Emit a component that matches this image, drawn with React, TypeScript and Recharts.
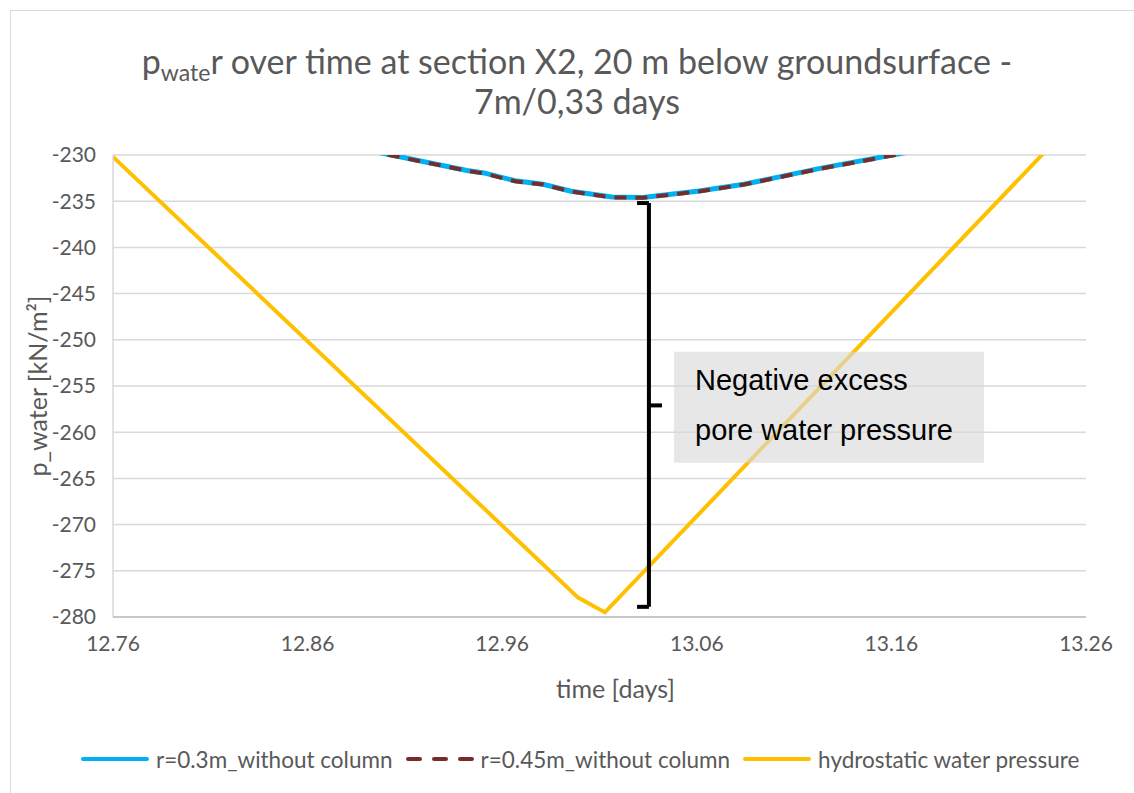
import React from 'react';
import {
  LineChart,
  Line,
  XAxis,
  YAxis,
  CartesianGrid,
  ReferenceArea,
  ReferenceLine,
} from 'recharts';

// time [days] / p_water [kN/m²]
const timeR030 = [12.88, 12.9018, 12.9419, 12.9506, 12.9666, 12.981, 12.9954, 13.0164, 13.0324, 13.0611, 13.0843, 13.1233, 13.162, 13.18];
const pR030 = [-229.0, -229.95, -231.67, -231.94, -232.79, -233.17, -233.92, -234.55, -234.6, -233.9, -233.17, -231.45, -229.95, -229.2];

const timeR045 = [12.88, 12.9018, 12.9419, 12.9506, 12.9666, 12.981, 12.9954, 13.0164, 13.0324, 13.0611, 13.0843, 13.1233, 13.162, 13.18];
const pR045 = [-229.05, -230.0, -231.7, -232.0, -232.85, -233.2, -233.95, -234.6, -234.62, -233.95, -233.2, -231.5, -230.0, -229.25];

const timeHydro = [12.76, 12.999, 13.0128, 13.26];
const pHydro = [-230.2, -277.9, -279.5, -225.0];

const xTicks = [12.76, 12.86, 12.96, 13.06, 13.16, 13.26];
const yTicks = [-280, -275, -270, -265, -260, -255, -250, -245, -240, -235, -230];

// bracket marking the excess pressure (data coordinates)
const bracketLeft = 13.0293;
const bracketRight = 13.0354;
const bracketTip = 13.0421;
const bracketTop = -235.2;
const bracketBottom = -278.9;
const bracketMid = -257.1;

const toRows = (t: number[], v: number[]) => t.map((time, i) => ({ time, p: v[i] }));

const series = [
  { name: 'r=0.3m_without column', data: toRows(timeR030, pR030), color: '#00b0f0', width: 5, dash: undefined as string | undefined, legendDash: undefined as string | undefined },
  { name: 'r=0.45m_without column', data: toRows(timeR045, pR045), color: '#772c2a', width: 4, dash: '12 9', legendDash: '12 14' },
  { name: 'hydrostatic water pressure', data: toRows(timeHydro, pHydro), color: '#ffc000', width: 4, dash: undefined, legendDash: undefined },
];

const FONT = 'Lato, "Open Sans", sans-serif';
const GREY = '#595959';

const BoxLabel = (props: any) => {
  const { x, y } = props.viewBox;
  return (
    <text x={x + 21} y={y + 38} fontFamily='"Liberation Sans", Arial, sans-serif' fontSize={29} fill="#000">
      <tspan x={x + 21}>Negative excess</tspan>
      <tspan x={x + 21} dy={50}>pore water pressure</tspan>
    </text>
  );
};

const YLabel = (props: any) => {
  const { x, y, height } = props.viewBox;
  const cx = x + 37;
  const cy = y + height / 2;
  return (
    <text x={cx} y={cy} transform={`rotate(-90 ${cx} ${cy})`} textAnchor="middle" dominantBaseline="central" fontFamily={FONT} fontSize={25} fill={GREY}>
      p_water [kN/m²]
    </text>
  );
};

const XLabel = (props: any) => {
  const { x, y, width } = props.viewBox;
  return (
    <text x={x + width / 2 + 16} y={y + 81} textAnchor="middle" fontFamily={FONT} fontSize={25} fill={GREY}>
      time [days]
    </text>
  );
};

const ChartLegend = () => (
  <div style={{ position: 'absolute', top: 745, left: 80, display: 'flex', alignItems: 'center', fontFamily: FONT, fontSize: 22.5, color: GREY, whiteSpace: 'nowrap' }}>
    {series.map((s) => (
      <div key={s.name} style={{ display: 'flex', alignItems: 'center', marginRight: 12 }}>
        <svg width={70} height={28}>
          <line x1={3} y1={14} x2={67} y2={14} stroke={s.color} strokeWidth={4} strokeDasharray={s.legendDash} strokeLinecap="round" />
        </svg>
        <span style={{ marginLeft: 6 }}>{s.name}</span>
      </div>
    ))}
  </div>
);

const titleLine: React.CSSProperties = {
  position: 'absolute',
  left: 10,
  width: 1134,
  textAlign: 'center',
  fontFamily: FONT,
  fontSize: 34,
  lineHeight: '34px',
  color: GREY,
  whiteSpace: 'nowrap',
};

export default function App() {
  return (
    <div style={{ position: 'absolute', left: 0, top: 0, width: 1134, height: 793, background: '#fff', overflow: 'hidden' }}>
      <div style={{ position: 'absolute', left: 10, top: 10, width: 1140, height: 800, border: '1px solid #d9d9d9' }} />
      <div style={{ ...titleLine, top: 44 }}>
        p<span style={{ fontSize: 23, position: 'relative', top: 7 }}>wate</span>r over time at section X2, 20 m below groundsurface -
      </div>
      <div style={{ ...titleLine, top: 84 }}>7m/0,33 days</div>
      <LineChart width={1134} height={793} margin={{ top: 155, right: 48, bottom: 136, left: 0 }} style={{ position: 'absolute', left: 0, top: 0 }}>
        <CartesianGrid horizontal vertical={false} stroke="#d9d9d9" strokeWidth={1.5} />
        <XAxis
          dataKey="time"
          type="number"
          domain={[12.76, 13.26]}
          ticks={xTicks}
          allowDataOverflow
          height={40}
          axisLine={{ stroke: '#bfbfbf', strokeWidth: 1.5 }}
          tickLine={false}
          tick={{ fill: GREY, fontSize: 21, fontFamily: FONT }}
          tickMargin={13}
          tickFormatter={(v: number) => v.toFixed(2)}
          label={<XLabel />}
        />
        <YAxis
          type="number"
          domain={[-280, -230]}
          ticks={yTicks}
          allowDataOverflow
          width={113}
          axisLine={{ stroke: '#d9d9d9', strokeWidth: 1.5 }}
          tickLine={false}
          tick={{ fill: GREY, fontSize: 21, fontFamily: FONT }}
          tickMargin={11}
          label={<YLabel />}
        />
        {series.map((s) => (
          <Line
            key={s.name}
            data={s.data}
            dataKey="p"
            name={s.name}
            type="linear"
            stroke={s.color}
            strokeWidth={s.width}
            strokeDasharray={s.dash}
            dot={false}
            activeDot={false}
            isAnimationActive={false}
          />
        ))}
        <ReferenceArea
          x1={13.0483}
          x2={13.2076}
          y1={-263.3}
          y2={-251.3}
          fill="#d9d9d9"
          fillOpacity={0.63}
          stroke="none"
          zIndex={450}
          label={<BoxLabel />}
        />
        <ReferenceLine segment={[{ x: bracketLeft, y: bracketTop }, { x: bracketRight, y: bracketTop }]} stroke="#000" strokeWidth={4} zIndex={460} />
        <ReferenceLine segment={[{ x: bracketRight, y: bracketTop }, { x: bracketRight, y: bracketBottom }]} stroke="#000" strokeWidth={4} zIndex={460} />
        <ReferenceLine segment={[{ x: bracketLeft, y: bracketBottom }, { x: bracketRight, y: bracketBottom }]} stroke="#000" strokeWidth={4} zIndex={460} />
        <ReferenceLine segment={[{ x: bracketRight, y: bracketMid }, { x: bracketTip, y: bracketMid }]} stroke="#000" strokeWidth={4} zIndex={460} />
      </LineChart>
      <ChartLegend />
    </div>
  );
}
